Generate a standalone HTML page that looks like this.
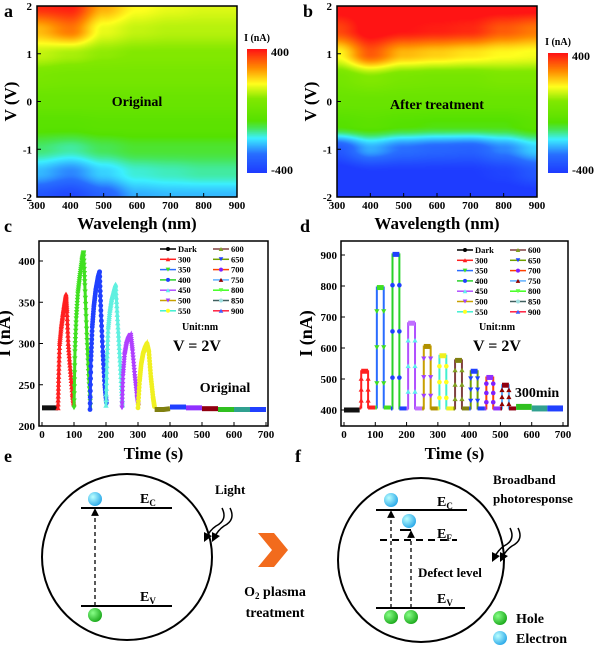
<!DOCTYPE html>
<html><head><meta charset="utf-8">
<style>
body{margin:0;background:#fff;}
#root{position:relative;width:600px;height:650px;overflow:hidden;font-family:"Liberation Serif",serif;font-weight:bold;}
svg text{font-family:"Liberation Serif",serif;font-weight:bold;}
canvas{position:absolute;}
</style></head>
<body>
<div id="root">
<canvas id="hmA" width="200" height="191" style="left:37px;top:6px"></canvas>
<canvas id="hmB" width="200" height="191" style="left:337px;top:6px"></canvas>
<canvas id="cbA" width="20" height="124" style="left:247px;top:49px"></canvas>
<canvas id="cbB" width="20" height="120" style="left:548px;top:53px"></canvas>
<svg id="s" width="600" height="650" style="position:absolute;left:0;top:0"></svg>
</div>
<script>
// ---------- heatmap data ----------
const hmWavelengths=[300,400,500,600,700,800,900];
const hmVoltages=[2,1.5,1,0.5,0,-0.5,-1,-1.5,-2];
const hmOriginal=[
[380,390,250,180,160,150,150],
[240,300,160,130,120,120,120],
[130,110,90,80,80,80,80],
[50,40,40,40,40,40,40],
[0,0,0,0,0,0,0],
[-50,-50,-40,-40,-40,-40,-40],
[-120,-140,-110,-90,-90,-90,-90],
[-220,-260,-200,-160,-150,-140,-140],
[-340,-370,-310,-230,-220,-220,-220]];
const hmTreated=[
[420,420,420,420,420,420,420],
[350,420,400,390,380,330,300],
[180,330,240,220,200,180,170],
[40,80,50,40,40,60,60],
[0,0,0,0,0,0,0],
[-60,-40,-60,-70,-70,-70,-40],
[-330,-230,-280,-300,-310,-260,-200],
[-420,-400,-400,-400,-400,-380,-330],
[-420,-420,-420,-420,-420,-420,-420]];
const hmXTicks=[300,400,500,600,700,800,900];
const hmYTicks=[2,1,0,-1,-2];

// ---------- panel c data ----------
const seriesNames=["Dark","300","350","400","450","500","550","600","650","700","750","800","850","900"];
const cTimes=[
[0,10,20,30,40,50],
[50,52,55,60,65,70,75,78,82,88,95,100],
[100,103,107,112,118,125,130,134,140,146,152],
[150,153,157,162,168,175,180,184,190,196,202],
[200,203,207,212,218,225,230,236,242,248,252],
[250,253,258,264,270,277,283,290,297,302],
[300,305,310,316,322,328,334,340,347,352],
[352,365,380,400],[400,415,430,450],[450,465,480,500],[500,515,530,550],[550,565,580,600],[600,615,630,650],[650,665,680,700]];
const cValues=[
[222,222,222,222,222,222],
[222,260,300,320,335,348,360,340,300,270,240,225],
[222,290,330,360,380,400,410,370,310,260,220],
[220,280,320,345,365,380,387,340,290,250,225],
[225,280,320,340,355,365,372,330,290,250,222],
[222,260,285,298,305,310,290,260,235,222],
[222,255,275,288,295,300,290,260,235,222],
[220,220,220,221],[223,223,223,223],[222,222,222,222],[221,221,221,221],[220,220,220,220],[220,220,220,220],[220,220,220,220]];

// ---------- panel d data ----------
const dPulseStart=[50,100,150,200,250,300,350,400,450,500];
const dPeaks=[525,795,902,680,605,575,560,525,505,480];
const dBase=[408,408,405,405,405,405,405,405,405,405];
const dDark=[400,400];
const dTail=[[550,600,410],[600,650,405],[650,700,405]];

const lineColors=["#000","#ff2020","#2a6cff","#2ad22a","#b050ff","#c8a000","#40f0d0","#804040","#70a000","#ff4000","#60b0ff","#40ff20","#406060","#ff2040"];
const markColors=["#000","#ff2020","#40e020","#2040ff","#60f0f0","#a040ff","#ffff20","#80a020","#2040ff","#8020ff","#900000","#60ff40","#a0e0e0","#4060ff"];
const cCurveColors=["#111","#ff2020","#40e020","#2040ff","#60f0e0","#b040ff","#f0f020","#808010","#2040ff","#9030ff","#900010","#30c020","#30a090","#2040ff"];
const dCurveColors=["#111","#ff2020","#40e020","#2040ff","#c070ff","#b09000","#f0f020","#808010","#2040ff","#9030ff","#900010","#30c020","#30a090","#2040ff"];

// ---------- colormap ----------
const cmStops=[[0,[30,60,255]],[0.15,[40,110,255]],[0.28,[60,240,255]],[0.36,[70,230,90]],[0.42,[85,225,0]],[0.6,[130,232,0]],[0.72,[255,255,30]],[0.85,[255,140,0]],[1,[255,20,20]]];
function cmap(v){let t=(v+400)/800;t=Math.max(0,Math.min(1,t));
 for(let i=1;i<cmStops.length;i++){if(t<=cmStops[i][0]){const a=cmStops[i-1],b=cmStops[i];const f=(t-a[0])/(b[0]-a[0]);return a[1].map((c,k)=>Math.round(c+(b[1][k]-c)*f));}}
 return cmStops[cmStops.length-1][1];}
function drawHeat(id,grid){const cv=document.getElementById(id),ctx=cv.getContext('2d');const W=cv.width,H=cv.height;const img=ctx.createImageData(W,H);
 const nx=hmWavelengths.length-1,ny=hmVoltages.length-1;
 for(let y=0;y<H;y++){for(let x=0;x<W;x++){
  const gx=x/(W-1)*nx,gy=y/(H-1)*ny;const i=Math.min(nx-1,Math.floor(gx)),j=Math.min(ny-1,Math.floor(gy));const fx=gx-i,fy=gy-j;
  let fxs=fx*fx*(3-2*fx),fys=fy*fy*(3-2*fy);
  const v=grid[j][i]*(1-fxs)*(1-fys)+grid[j][i+1]*fxs*(1-fys)+grid[j+1][i]*(1-fxs)*fys+grid[j+1][i+1]*fxs*fys;
  const c=cmap(v);const p=(y*W+x)*4;img.data[p]=c[0];img.data[p+1]=c[1];img.data[p+2]=c[2];img.data[p+3]=255;}}
 ctx.putImageData(img,0,0);}
drawHeat('hmA',hmOriginal);drawHeat('hmB',hmTreated);
function drawCb(id){const cv=document.getElementById(id),ctx=cv.getContext('2d');for(let y=0;y<cv.height;y++){const c=cmap(400-800*y/(cv.height-1));ctx.fillStyle=`rgb(${c})`;ctx.fillRect(0,y,cv.width,1);}}
drawCb('cbA');drawCb('cbB');

// ---------- svg helpers ----------
const S=document.getElementById('s');const NS='http://www.w3.org/2000/svg';
function mk(tag,attrs,parent){const e=document.createElementNS(NS,tag);for(const k in attrs)e.setAttribute(k,attrs[k]);(parent||S).appendChild(e);return e;}
function txt(x,y,s,size,anchor,name,extra){const e=mk('text',Object.assign({x:x,y:y,'font-size':size,'text-anchor':anchor||'middle'},extra||{}));e.textContent=s;
 
 
 return e;}

// ---------- heatmap axes ----------
function heatAxes(ox,title,cbx,cby,cbh){
 const x0=ox+37,x1=ox+237,y0=6,y1=197;
 const xs=w=>x0+(w-300)/600*(x1-x0),ys=v=>y0+(2-v)/4*(y1-y0);
 const box=mk('rect',{x:x0,y:y0,width:x1-x0,height:y1-y0,fill:'none',stroke:'#000','stroke-width':1.5});
 
 
 hmXTicks.forEach(t=>{mk('line',{x1:xs(t),x2:xs(t),y1:y1,y2:y1-4,stroke:'#000'});txt(xs(t),y1+12,String(t),11,'middle','x-tick-label');});
 hmYTicks.forEach(t=>{mk('line',{x1:x0,x2:x0+4,y1:ys(t),y2:ys(t),stroke:'#000'});txt(x0-5,ys(t)+4,String(t),11,'end','y-tick-label');});
 txt((x0+x1)/2,229,ox?'Wavelength (nm)':'Wavelengh (nm)',17,'middle','x-axis-title');
 txt(0,0,'V (V)',17,'middle','y-axis-title',{transform:`translate(${ox+16},${(y0+y1)/2}) rotate(-90)`});
 txt((x0+x1)/2,ox?109:106,title,14,'middle','panel-annotation');
 txt(cbx+10,cby-8,'I (nA)',10,'middle','colorbar-title');
 txt(cbx+24,cby+7,'400',12,'start','colorbar-max',{'font-family':'Liberation Sans'});
 txt(cbx+24,cby+cbh+1,'-400',12,'start','colorbar-min',{'font-family':'Liberation Sans'});
}
heatAxes(0,'Original',247,49,124);
heatAxes(300,'After treatment',548,53,120);
txt(4,17,'a',18,'start','panel-label-a');txt(303,17,'b',18,'start','panel-label-b');

// ---------- marker ----------
function marker(x,y,col,shape,parent,r){r=r||2;
 let e;if(shape%3===1){e=mk('path',{d:`M${x-r-0.3},${y+r}L${x+r+0.3},${y+r}L${x},${y-r}Z`,fill:col},parent);}
 else if(shape%3===2){e=mk('path',{d:`M${x-r-0.3},${y-r}L${x+r+0.3},${y-r}L${x},${y+r}Z`,fill:col},parent);}
 else e=mk('circle',{cx:x,cy:y,r:r,fill:col},parent);
 
 
 return e;}

function axesLine(x0,x1,y0,y1,xs,ys,xt,yt,titleX){
 const box=mk('rect',{x:x0,y:y0,width:x1-x0,height:y1-y0,fill:'none',stroke:'#000','stroke-width':1.5});
 
 
 xt.forEach(t=>{mk('line',{x1:xs(t),x2:xs(t),y1:y1,y2:y1-4,stroke:'#000'});txt(xs(t),y1+12,String(t),11,'middle','x-tick-label');});
 yt.forEach(t=>{mk('line',{x1:x0,x2:x0+4,y1:ys(t),y2:ys(t),stroke:'#000'});txt(x0-4,ys(t)+4,String(t),11,'end','y-tick-label');});
 txt((x0+x1)/2,459,'Time (s)',17,'middle','x-axis-title');
 txt(0,0,'I (nA)',18,'middle','y-axis-title',{transform:`translate(${titleX},${(y0+y1)/2}) rotate(-90)`});
}
function legend(c1,c2,y0){
 seriesNames.forEach((n,i)=>{const col=i<7?c1:c2,row=i%7,y=y0+row*10.3;
  const g=mk('g',{});
  mk('line',{x1:col,x2:col+16,y1:y,y2:y,stroke:lineColors[i],'stroke-width':1.5},g);
  marker(col+8,y,markColors[i],i,g);
  const t=mk('text',{x:col+18,y:y+3,'font-size':8.5},g);t.textContent=n;});
}

// ---------- panel c ----------
const xC=t=>42+t*224/700,yC=v=>426-(v-200)*0.825;
axesLine(39,268,241,426,xC,yC,[0,100,200,300,400,500,600,700],[200,250,300,350,400],10);
cTimes.forEach((ts,i)=>{const g=mk('g',{});
 const pts=ts.map((t,k)=>xC(t)+','+yC(cValues[i][k])).join(' ');
 mk('polyline',{points:pts,fill:'none',stroke:cCurveColors[i],'stroke-width':i>6||i===0?5:3},g);
 if(i>0&&i<7){for(let k=0;k<ts.length-1;k++){for(let f=0;f<1;f+=0.125){const t=ts[k]+(ts[k+1]-ts[k])*f,v=cValues[i][k]+(cValues[i][k+1]-cValues[i][k])*f;marker(xC(t),yC(v),cCurveColors[i],i,g,2.4);}}}
});
legend(160,213,249);
txt(200,330,'Unit:nm',10,'middle','unit-label');
txt(197,351,'V = 2V',16,'middle','voltage-label');
txt(225,392,'Original',14,'middle','condition-label');
txt(4,232,'c',18,'start','panel-label-c');

// ---------- panel d ----------
const xD=t=>344+t*219/700,yD=v=>410-(v-400)*0.31;
axesLine(341,568,241,426,xD,yD,[0,100,200,300,400,500,600,700],[400,500,600,700,800,900],312);
{const g=mk('g',{});
 mk('line',{x1:xD(0),x2:xD(50),y1:yD(dDark[0]),y2:yD(dDark[1]),stroke:'#111','stroke-width':5},g);}
dPulseStart.forEach((t0,i)=>{const s=i+1,col=dCurveColors[s],b=dBase[i],p=dPeaks[i];
 const g=mk('g',{});
 const pts=[[t0,b],[t0+5,b],[t0+5,p],[t0+27,p],[t0+27,b],[t0+50,b]];
 mk('polyline',{points:pts.map(q=>xD(q[0])+','+yD(q[1])).join(' '),fill:'none',stroke:lineColors[s],'stroke-width':2},g);
 mk('line',{x1:xD(t0+5),x2:xD(t0+27),y1:yD(p),y2:yD(p),stroke:col,'stroke-width':5},g);
 mk('line',{x1:xD(t0),x2:xD(t0+5),y1:yD(b),y2:yD(b),stroke:col,'stroke-width':4},g);
 mk('line',{x1:xD(t0+27),x2:xD(t0+50),y1:yD(b),y2:yD(b),stroke:col,'stroke-width':4},g);
 [0.2,0.5,0.8].forEach(f=>{const v=b+(p-b)*f;marker(xD(t0+5),yD(v),markColors[s],s,g,2.3);marker(xD(t0+27),yD(v),markColors[s],s,g,2.3);});
});
dTail.forEach((q,i)=>{const s=11+i;const g=mk('g',{});
 mk('line',{x1:xD(q[0]),x2:xD(q[1]),y1:yD(q[2]),y2:yD(q[2]),stroke:dCurveColors[s],'stroke-width':6},g);});
legend(457,510,250);
txt(497,330,'Unit:nm',10,'middle','unit-label');
txt(497,351,'V = 2V',16,'middle','voltage-label');
txt(537,397,'300min',14,'middle','condition-label');
txt(300,232,'d',18,'start','panel-label-d');

// ---------- panel e/f band diagrams ----------
const defs=mk('defs',{});
defs.innerHTML='<radialGradient id="gb" cx="0.35" cy="0.35" r="0.7"><stop offset="0" stop-color="#bff"/><stop offset="1" stop-color="#2aa8e8"/></radialGradient><radialGradient id="gg" cx="0.35" cy="0.35" r="0.7"><stop offset="0" stop-color="#8f8"/><stop offset="1" stop-color="#1aa81a"/></radialGradient><marker id="ah" markerWidth="6" markerHeight="6" refX="3" refY="3" orient="auto"><path d="M0,0L6,3L0,6Z" fill="#000"/></marker>';
function ball(x,y,el,name){const c=mk('circle',{cx:x,cy:y,r:7,fill:el?'url(#gb)':'url(#gg)'});}
function hline(x1,x2,y,dash){mk('line',{x1:x1,x2:x2,y1:y,y2:y,stroke:'#000','stroke-width':2,'stroke-dasharray':dash||'none'});}
function darrow(x,y1,y2){mk('line',{x1:x,x2:x,y1:y1,y2:y2+4,stroke:'#000','stroke-width':1.3,'stroke-dasharray':'4,3','marker-end':'url(#ah)'});}
function wavy(x,y){[0,8].forEach(d=>mk('path',{d:`M${x+d},${y}q6,12 -6,18 q-6,4 -10,12`,fill:'none',stroke:'#000','stroke-width':1.5,'marker-end':'url(#ah)'}));}
function sub(x,y,main,s,name){const t=txt(x,y,'',14,'start',name);const a=mk('tspan',{},t);a.textContent=main;const b=mk('tspan',{'font-size':9,dy:3},t);b.textContent=s;}
// e
{const c=mk('ellipse',{cx:127,cy:557,rx:85,ry:83,fill:'none',stroke:'#000','stroke-width':2});}
hline(81,172,508);hline(81,172,606);darrow(95,606,508);
ball(95,499,1,'electron');ball(95,615,0,'hole');
sub(140,503,'E','C','conduction-band-label');sub(140,601,'E','V','valence-band-label');
txt(215,494,'Light',13,'start','light-label');wavy(222,508);
txt(4,462,'e',18,'start','panel-label-e');
{const p=mk('path',{d:'M258,533L274,533L288,550L274,567L258,567L272,550Z',fill:'#f26b1d'});}
{const t=txt(275,596,'',14,'middle','process-label');const a=mk('tspan',{},t);a.textContent='O';const b=mk('tspan',{'font-size':9,dy:3},t);b.textContent='2';const c2=mk('tspan',{dy:-3},t);c2.textContent=' plasma';}
txt(275,617,'treatment',14,'middle','process-label-2');
// f
txt(295,462,'f',18,'start','panel-label-f');
{const c=mk('ellipse',{cx:421,cy:560,rx:83,ry:82,fill:'none',stroke:'#000','stroke-width':2});}
hline(376,467,510);hline(376,465,608);hline(400,411,530);hline(380,457,540,'7,5');
darrow(391,608,510);darrow(411,608,530);
ball(391,500,1,'electron');ball(409,521,1,'electron');ball(391,617,0,'hole');ball(411,617,0,'hole');
sub(437,506,'E','C','conduction-band-label');sub(437,538,'E','F','fermi-level-label');sub(437,603,'E','V','valence-band-label');
txt(418,577,'Defect level',13,'start','defect-level-label');
txt(493,484,'Broadband',13,'start','broadband-label');txt(493,503,'photoresponse',13,'start','photoresponse-label');
wavy(510,528);
ball(500,618,0,'legend-hole');txt(516,623,'Hole',14,'start','legend-hole-label');
ball(500,638,1,'legend-electron');txt(516,643,'Electron',14,'start','legend-electron-label');
</script>
</body></html>
